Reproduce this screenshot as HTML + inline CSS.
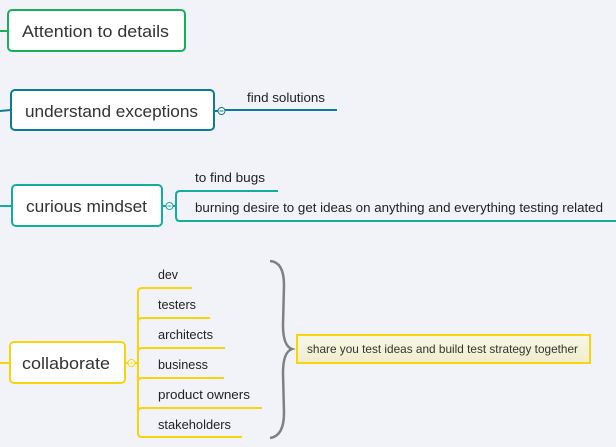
<!DOCTYPE html>
<html><head><meta charset="utf-8"><style>
html,body{margin:0;padding:0;background:#f2f3f8;}
svg{display:block;font-family:"Liberation Sans","DejaVu Sans",sans-serif;}
</style></head><body>
<svg width="616" height="447" viewBox="0 0 616 447" xmlns="http://www.w3.org/2000/svg">
<rect width="616" height="447" fill="#f2f3f8"/>
<path d="M0 31 L8 31" stroke="#1aae5b" stroke-width="2"/>
<rect x="8" y="10" width="177" height="41" rx="4" fill="#fff" stroke="#1aae5b" stroke-width="2"/>
<text x="22" y="37" font-size="17" fill="#333" textLength="147" lengthAdjust="spacingAndGlyphs">Attention to details</text>
<path d="M0 111 L11 110" stroke="#0f7a96" stroke-width="2"/>
<rect x="11" y="90" width="203" height="40" rx="4" fill="#fff" stroke="#0f7a96" stroke-width="2"/>
<text x="25" y="117" font-size="17" fill="#333" textLength="173" lengthAdjust="spacingAndGlyphs">understand exceptions</text>
<path d="M214 111 L218 111 M225 110 L337 110" stroke="#0f7a96" stroke-width="2"/>
<circle cx="221.5" cy="111" r="3.5" fill="#fff" stroke="#0f7a96" stroke-width="1"/>
<line x1="219.5" y1="111" x2="223.5" y2="111" stroke="#0f7a96"/>
<text x="247" y="102" font-size="13" fill="#222" textLength="78" lengthAdjust="spacingAndGlyphs">find solutions</text>
<path d="M0 206 L12 206" stroke="#14ad9c" stroke-width="2"/>
<rect x="12" y="185" width="150" height="41" rx="4" fill="#fff" stroke="#14ad9c" stroke-width="2"/>
<text x="26" y="212" font-size="17" fill="#333" textLength="121" lengthAdjust="spacingAndGlyphs">curious mindset</text>
<path d="M162 206 L166 206 M173 206 L176 206" stroke="#14ad9c" stroke-width="2"/>
<circle cx="169.5" cy="206" r="3.5" fill="#fff" stroke="#14ad9c" stroke-width="1"/>
<line x1="167.5" y1="206" x2="171.5" y2="206" stroke="#14ad9c"/>
<path d="M278 191 L180 191 Q176 191 176 195 L176 217 Q176 221 180 221 L616 221" fill="none" stroke="#14ad9c" stroke-width="2"/>
<text x="195" y="182" font-size="13" fill="#222" textLength="70" lengthAdjust="spacingAndGlyphs">to find bugs</text>
<text x="195" y="212" font-size="13" fill="#222" textLength="408" lengthAdjust="spacingAndGlyphs">burning desire to get ideas on anything and everything testing related</text>
<path d="M0 363 L10 363" stroke="#f7d40c" stroke-width="2"/>
<rect x="10" y="342" width="115" height="41" rx="4" fill="#fff" stroke="#f7d40c" stroke-width="2"/>
<text x="22" y="369" font-size="17" fill="#333" textLength="88" lengthAdjust="spacingAndGlyphs">collaborate</text>
<path d="M125 363 L128 363 M135 363 L138 363" stroke="#f7d40c" stroke-width="2"/>
<circle cx="131.5" cy="363" r="3.5" fill="#fff" stroke="#f7d40c" stroke-width="1"/>
<line x1="129.5" y1="363" x2="133.5" y2="363" stroke="#f7d40c"/>
<g fill="none" stroke="#f7d40c" stroke-width="2">
<path d="M192 288 L142 288 Q138 288 138 292 L138 433 Q138 437 142 437 L242 437"/>
<path d="M210 318 L142 318 Q138 318 138 322"/>
<path d="M225 348 L142 348 Q138 348 138 352"/>
<path d="M224 378 L142 378 Q138 378 138 382"/>
<path d="M262 408 L142 408 Q138 408 138 412"/>
</g>
<g font-size="13" fill="#222" lengthAdjust="spacingAndGlyphs">
<text x="158" y="279" textLength="20" lengthAdjust="spacingAndGlyphs">dev</text>
<text x="158" y="309" textLength="38" lengthAdjust="spacingAndGlyphs">testers</text>
<text x="158" y="339" textLength="55" lengthAdjust="spacingAndGlyphs">architects</text>
<text x="158" y="369" textLength="50" lengthAdjust="spacingAndGlyphs">business</text>
<text x="158" y="399" textLength="92" lengthAdjust="spacingAndGlyphs">product owners</text>
<text x="158" y="429" textLength="73" lengthAdjust="spacingAndGlyphs">stakeholders</text>
</g>
<path d="M270 261 Q284 262 284 285 L283 325 Q283 346 292 349 Q283 352 283 373 L284 413 Q284 436 270 438" fill="none" stroke="#808080" stroke-width="2.5"/>
<defs><linearGradient id="g" x1="0" y1="0" x2="0" y2="1"><stop offset="0" stop-color="#f8f7e6"/><stop offset="1" stop-color="#efedcc"/></linearGradient></defs>
<rect x="297" y="335" width="293" height="28" fill="url(#g)" stroke="#f7d40c" stroke-width="2"/>
<text x="307" y="353" font-size="12" fill="#333" textLength="271" lengthAdjust="spacingAndGlyphs">share you test ideas and build test strategy together</text>
</svg>
</body></html>
